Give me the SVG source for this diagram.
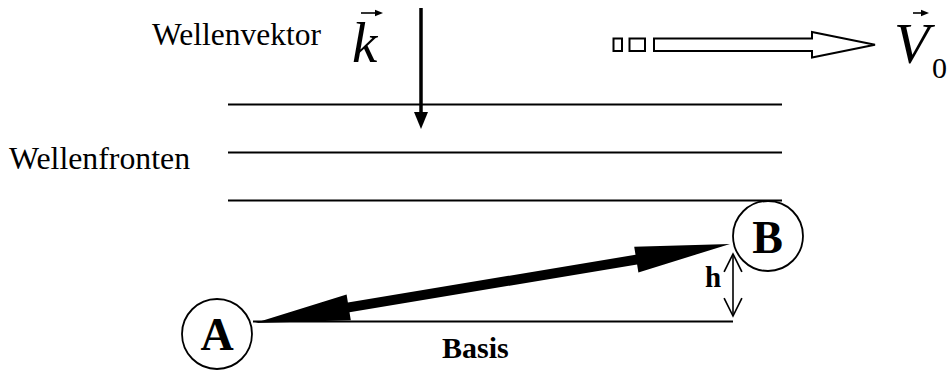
<svg xmlns="http://www.w3.org/2000/svg" width="948" height="371" viewBox="0 0 948 371">
<style>
.t{font-family:"Liberation Serif","Times New Roman",serif;fill:#000}
.b{font-weight:bold}
.i{font-style:italic}
.ln{stroke:#000;stroke-width:2;fill:none}
.node{fill:#fff;stroke:#000;stroke-width:1.8}
</style>
<defs>
<marker id="solid" markerUnits="userSpaceOnUse" markerWidth="20" markerHeight="16" viewBox="0 -8 18 16" refX="0" refY="0" orient="auto">
<path d="M0,-7 L17,0 L0,7 z" fill="#000"/>
</marker>
<marker id="open" markerUnits="userSpaceOnUse" markerWidth="22" markerHeight="22" viewBox="-19 -10 21 20" refX="0" refY="0" orient="auto-start-reverse">
<path d="M-17,-8.5 L0,0 L-17,8.5" fill="none" stroke="#000" stroke-width="1.6"/>
</marker>
<marker id="vec" markerUnits="userSpaceOnUse" markerWidth="10" markerHeight="8" viewBox="0 -4 9 8" refX="0" refY="0" orient="auto">
<path d="M0,-3.2 L8,0 L0,3.2 z" fill="#000"/>
</marker>
</defs>

<!-- wave fronts -->
<g id="wellenfronten">
<line class="ln" x1="228" y1="104.5" x2="782" y2="104.5"/>
<line class="ln" x1="228" y1="152.5" x2="782" y2="152.5"/>
<line class="ln" x1="228" y1="200.5" x2="782" y2="200.5"/>
<text class="t" x="9" y="169" font-size="31.8">Wellenfronten</text>
</g>

<!-- wave vector -->
<g id="wellenvektor">
<text class="t" x="152" y="45" font-size="31.5">Wellenvektor</text>
<text class="t i" x="352" y="62" font-size="57">k</text>
<line x1="361" y1="13" x2="375" y2="13" stroke="#000" stroke-width="1.6" marker-end="url(#vec)"/>
<line x1="421" y1="8" x2="421" y2="112" stroke="#000" stroke-width="3.5" marker-end="url(#solid)"/>
</g>

<!-- velocity -->
<g id="geschwindigkeit">
<rect x="613.5" y="38.5" width="8.5" height="12.5" fill="none" stroke="#000" stroke-width="2"/>
<rect x="629.5" y="38.5" width="15.5" height="12.5" fill="none" stroke="#000" stroke-width="2"/>
<path d="M654,38.5 L812,38.5 L812,32 L875,44.75 L812,57.5 L812,51 L654,51 Z" fill="none" stroke="#000" stroke-width="2" stroke-linejoin="miter"/>
<text class="t i" x="894" y="63" font-size="58">V</text>
<text class="t" x="932" y="78" font-size="30">0</text>
<line x1="913" y1="13" x2="921" y2="13" stroke="#000" stroke-width="1.6" marker-end="url(#vec)"/>
</g>

<!-- baseline -->
<g id="basis">
<line class="ln" x1="253" y1="321.5" x2="733" y2="321.5"/>
<text class="t b" x="442" y="358" font-size="30">Basis</text>
</g>

<!-- connectors -->
<g id="connectors">
<polygon points="255,323 346.6,294.6 347.9,302.5 635.5,254.7 634.2,246.8 730,244 638.4,272.4 637.1,264.5 349.5,312.3 350.8,320.2" fill="#000"/>
<line x1="733" y1="254" x2="733" y2="316" stroke="#000" stroke-width="1.6" marker-start="url(#open)" marker-end="url(#open)"/>
<text class="t b" x="705" y="287" font-size="29">h</text>
</g>

<!-- nodes -->
<g id="nodeA">
<circle class="node" cx="217" cy="334" r="35"/>
<text class="t b" x="217" y="350" font-size="46" text-anchor="middle">A</text>
</g>
<g id="nodeB">
<circle class="node" cx="768" cy="236" r="35"/>
<text class="t b" x="767.5" y="253" font-size="46" text-anchor="middle">B</text>
</g>
</svg>
